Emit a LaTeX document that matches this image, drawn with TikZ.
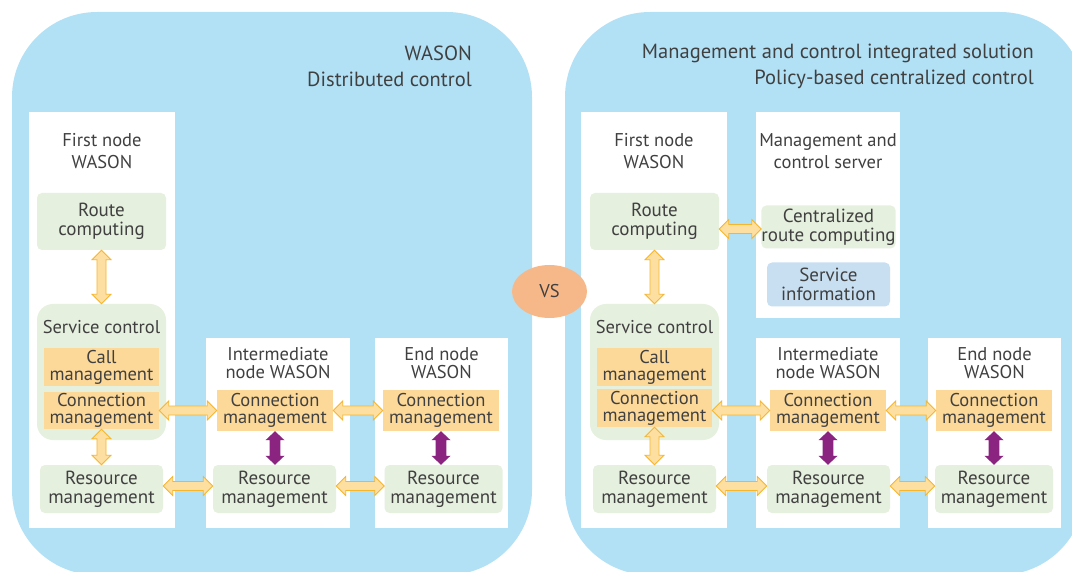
\documentclass[tikz,border=0pt]{standalone}
\usepackage{fontspec}
\setmainfont{PT Sans}
\usetikzlibrary{calc,shapes.geometric}

\definecolor{panelblue}{HTML}{B2E1F6}
\definecolor{boxgreen}{HTML}{E6F0DF}
\definecolor{boxorange}{HTML}{FDD999}
\definecolor{infoblue}{HTML}{C8DFF2}
\definecolor{vsorange}{HTML}{F6B889}
\definecolor{arrowfill}{HTML}{FDDFA2}
\definecolor{arrowline}{HTML}{F7B52B}
\definecolor{linkpurple}{HTML}{8A2480}
\definecolor{textgray}{HTML}{404040}

% double-headed block arrow between two points:
% #1 style, #2 start, #3 end, #4 half shaft width, #5 half head width, #6 head length
\newcommand\blockarrow[6]{%
  \path[#1] let \p1=#2, \p2=#3,
      \n1={atan2(\y2-\y1,\x2-\x1)}, \n2={veclen(\x2-\x1,\y2-\y1)} in
    ([shift={(\p1)},rotate=\n1]0pt,0pt)
    -- ([shift={(\p1)},rotate=\n1]#6,#5)
    -- ([shift={(\p1)},rotate=\n1]#6,#4)
    -- ([shift={(\p1)},rotate=\n1]\n2*1pt-#6,#4)
    -- ([shift={(\p1)},rotate=\n1]\n2*1pt-#6,#5)
    -- ([shift={(\p1)},rotate=\n1]\n2*1pt,0pt)
    -- ([shift={(\p1)},rotate=\n1]\n2*1pt-#6,-#5)
    -- ([shift={(\p1)},rotate=\n1]\n2*1pt-#6,-#4)
    -- ([shift={(\p1)},rotate=\n1]#6,-#4)
    -- ([shift={(\p1)},rotate=\n1]#6,-#5)
    -- cycle;}
\newcommand\openarrow[2]{\blockarrow{draw=arrowline,fill=arrowfill,line width=0.8pt,line join=miter}{#1}{#2}{4.5pt}{9.5pt}{9.5pt}}
\newcommand\solidarrow[2]{\blockarrow{fill=linkpurple}{#1}{#2}{5.3pt}{9.5pt}{9pt}}

\tikzset{
  panel/.style={fill=panelblue, rounded corners=85pt},
  nodebox/.style={fill=white, inner sep=0pt},
  greenbox/.style={fill=boxgreen, rounded corners=5pt, inner sep=0pt, align=center,
    text=textgray, font=\fontsize{19}{19}\selectfont},
  orangebox/.style={fill=boxorange, inner sep=0pt, align=center,
    text=textgray, font=\fontsize{18.5}{17}\selectfont},
  infobox/.style={greenbox, fill=infoblue},
  svcbox/.style={fill=boxgreen, rounded corners=16pt, inner sep=0pt},
  heading/.style={align=center, text=textgray, inner sep=0pt, font=\fontsize{18.5}{22}\selectfont},
  midheading/.style={heading, font=\fontsize{18.5}{18.5}\selectfont},
  title/.style={align=right, anchor=east, text=textgray, inner sep=0pt, font=\fontsize{20.5}{26}\selectfont},
  vs/.style={ellipse, fill=vsorange, minimum width=75pt, minimum height=53pt, inner sep=0pt,
    text=textgray, font=\fontsize{18.5}{20}\selectfont}
}

\begin{document}
\begin{tikzpicture}[x=1pt, y=-1pt]
\useasboundingbox (0,0) rectangle (1072,572);
\clip (0,0) rectangle (1072,572);

% ---------- distributed control ----------
\fill[panel] (12,12) rectangle (532,575);
\node[title] (ltitle) at (472,66) {WASON\\Distributed control};

\node[nodebox, minimum width=146pt, minimum height=416pt] (lfirst) at (102,320) {};
\node[nodebox, minimum width=144pt, minimum height=190pt] (lmid) at (278,433) {};
\node[nodebox, minimum width=133pt, minimum height=190pt] (lend) at (441.5,433) {};

\node[heading] (lfirsth) at (102,151) {First node\\WASON};
\node[midheading] (lmidh) at (278,363) {Intermediate\\node WASON};
\node[midheading] (lendh) at (441.5,363) {End node\\WASON};

\node[greenbox, minimum width=129pt, minimum height=57pt] (lroute) at (101.5,221.5) {Route\\computing};
\node[svcbox, minimum width=129pt, minimum height=136pt] (lsvc) at (101.5,372) {};
\node[heading] (lsvch) at (101.5,327) {Service control};
\node[orangebox, minimum width=115pt, minimum height=38pt] (lcall) at (101.5,367) {Call\\management};
\node[orangebox, minimum width=115pt, minimum height=37pt] (lconn) at (101.5,410.5) {Connection\\management};
\node[greenbox, minimum width=123pt, minimum height=48pt] (lres) at (101.5,489) {Resource\\management};

\node[orangebox, minimum width=116pt, minimum height=41pt] (lmconn) at (275,410.5) {Connection\\management};
\node[greenbox, minimum width=123pt, minimum height=48pt] (lmres) at (274.5,489) {Resource\\management};
\node[orangebox, minimum width=116pt, minimum height=41pt] (leconn) at (441,410.5) {Connection\\management};
\node[greenbox, minimum width=118pt, minimum height=48pt] (leres) at (443.5,489) {Resource\\management};

\openarrow{(lroute.south)}{(lsvc.north)}
\openarrow{(lconn.south)}{(lconn.south |- lres.north)}
\openarrow{(lconn.east)}{(lmconn.west)}
\openarrow{([yshift=3pt]lres.east)}{([yshift=3pt]lmres.west)}
\openarrow{(lmconn.east)}{(leconn.west)}
\openarrow{([yshift=3pt]lmres.east)}{([yshift=3pt]leres.west)}
\solidarrow{(lmconn.south)}{(lmconn.south |- lmres.north)}
\solidarrow{(leconn.south)}{(leconn.south |- leres.north)}

% ---------- centralized control ----------
\fill[panel] (565,12) rectangle (1085,575);
\node[title] (rtitle) at (1034,66) {Management and control integrated solution\\Policy-based centralized control};

\node[nodebox, minimum width=146pt, minimum height=416pt] (rfirst) at (654,320) {};
\node[nodebox, minimum width=144pt, minimum height=206pt] (rsrv) at (828,215) {};
\node[nodebox, minimum width=144pt, minimum height=190pt] (rmid) at (828,433) {};
\node[nodebox, minimum width=133pt, minimum height=190pt] (rend) at (994.5,433) {};

\node[heading] (rfirsth) at (654,151) {First node\\WASON};
\node[heading] (rsrvh) at (828,151) {Management and\\control server};
\node[midheading] (rmidh) at (828,363) {Intermediate\\node WASON};
\node[midheading] (rendh) at (994.5,363) {End node\\WASON};

\node[greenbox, minimum width=129pt, minimum height=57pt] (rroute) at (654.5,221.5) {Route\\computing};
\node[greenbox, minimum width=123pt, minimum height=43pt] (rcroute) at (828.5,227) {Centralized\\route computing};
\node[infobox, minimum width=123pt, minimum height=44pt] (rinfo) at (828.5,284.5) {Service\\information};
\node[svcbox, minimum width=129pt, minimum height=136pt] (rsvc) at (654.5,372) {};
\node[heading] (rsvch) at (654.5,327) {Service control};
\node[orangebox, minimum width=115pt, minimum height=38pt] (rcall) at (654.5,367) {Call\\management};
\node[orangebox, minimum width=115pt, minimum height=38pt] (rconn) at (654.5,408) {Connection\\management};
\node[greenbox, minimum width=123pt, minimum height=48pt] (rres) at (654.5,489) {Resource\\management};

\node[orangebox, minimum width=116pt, minimum height=41pt] (rmconn) at (828,410.5) {Connection\\management};
\node[greenbox, minimum width=123pt, minimum height=48pt] (rmres) at (828.5,489) {Resource\\management};
\node[orangebox, minimum width=116pt, minimum height=41pt] (reconn) at (994,410.5) {Connection\\management};
\node[greenbox, minimum width=118pt, minimum height=48pt] (reres) at (994,489) {Resource\\management};

\openarrow{(rroute.south)}{(rsvc.north)}
\openarrow{([yshift=-2pt]rroute.east |- rcroute.west)}{([yshift=-2pt]rcroute.west)}
\openarrow{(rconn.south)}{(rconn.south |- rres.north)}
\openarrow{(rconn.east |- rmconn.west)}{(rmconn.west)}
\openarrow{([yshift=3pt]rres.east)}{([yshift=3pt]rmres.west)}
\openarrow{(rmconn.east)}{(reconn.west)}
\openarrow{([yshift=3pt]rmres.east)}{([yshift=3pt]reres.west)}
\solidarrow{(rmconn.south)}{(rmconn.south |- rmres.north)}
\solidarrow{(reconn.south)}{(reconn.south |- reres.north)}

% ---------- comparison mark ----------
\node[vs] (vs) at (549.5,291.5) {VS};
\end{tikzpicture}
\end{document}
